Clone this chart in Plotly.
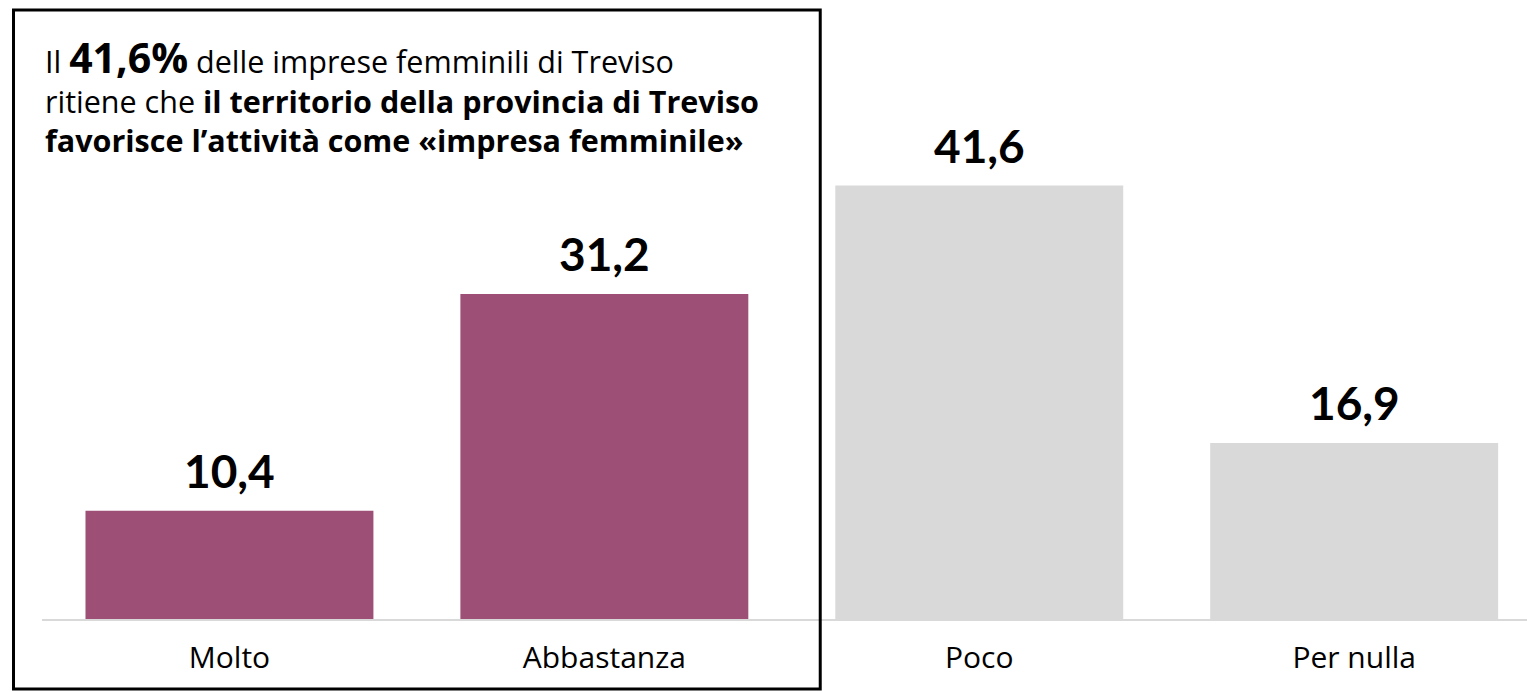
import plotly.graph_objects as go

# Survey answers and percentages
categories = ["Molto", "Abbastanza", "Poco", "Per nulla"]
values = [10.4, 31.2, 41.6, 16.9]
labels = ["10,4", "31,2", "41,6", "16,9"]
bar_colors = ["#9D4F76", "#9D4F76", "#D9D9D9", "#D9D9D9"]

NUM_FONT = "Lato, 'Open Sans', sans-serif"
TEXT_FONT = "'Open Sans', Lato, sans-serif"

fig = go.Figure(
    go.Bar(
        x=categories,
        y=values,
        marker=dict(color=bar_colors, line=dict(width=0)),
        width=0.768,
        hoverinfo="skip",
    )
)

# Value labels above each bar
for cat, val, lab in zip(categories, values, labels):
    fig.add_annotation(
        x=cat, y=val, text=f"<b>{lab}</b>", showarrow=False,
        xanchor="center", yanchor="bottom", yshift=11,
        font=dict(family=NUM_FONT, size=46, color="#000000"),
    )

# Headline text block
title_lines = [
    "Il <b><span style='font-size:41px'>41,6%</span></b> delle imprese femminili di Treviso",
    "ritiene che <b>il territorio della provincia di Treviso</b>",
    "<b>favorisce l’attività come «impresa femminile»</b>",
]
plot_h = 619
fig.add_annotation(
    xref="paper", yref="paper",
    x=(43 - 41.5) / 1485.5, y=(plot_h - 95) / plot_h,
    xanchor="left", yanchor="middle", showarrow=False,
    text="<br>".join(title_lines), align="left",
    font=dict(family=TEXT_FONT, size=30.5, color="#000000"),
)

# Frame around the first two answers and the headline
fig.add_shape(
    type="rect", xref="paper", yref="paper",
    x0=(13 - 41.5) / 1485.5, x1=(820 - 41.5) / 1485.5,
    y0=(plot_h - 689) / plot_h, y1=(plot_h - 10) / plot_h,
    line=dict(color="#000000", width=3), fillcolor="rgba(0,0,0,0)",
    layer="above",
)

fig.update_layout(
    width=1527, height=692,
    margin=dict(l=41.5, r=0, t=0, b=73),
    paper_bgcolor="white", plot_bgcolor="white",
    showlegend=False,
    font=dict(family=TEXT_FONT, color="#000000"),
    xaxis=dict(
        range=[-0.5, 3.461], showgrid=False, zeroline=False,
        showline=True, linecolor="#D9D9D9", linewidth=2,
        ticks="", tickfont=dict(family=TEXT_FONT, size=30, color="#000000"),
        ticklabelstandoff=11, fixedrange=True,
    ),
    yaxis=dict(
        range=[0, 619 / 10.42], visible=False, showgrid=False,
        zeroline=False, fixedrange=True,
    ),
)

fig.write_html("out.html", config=dict(displayModeBar=False))
